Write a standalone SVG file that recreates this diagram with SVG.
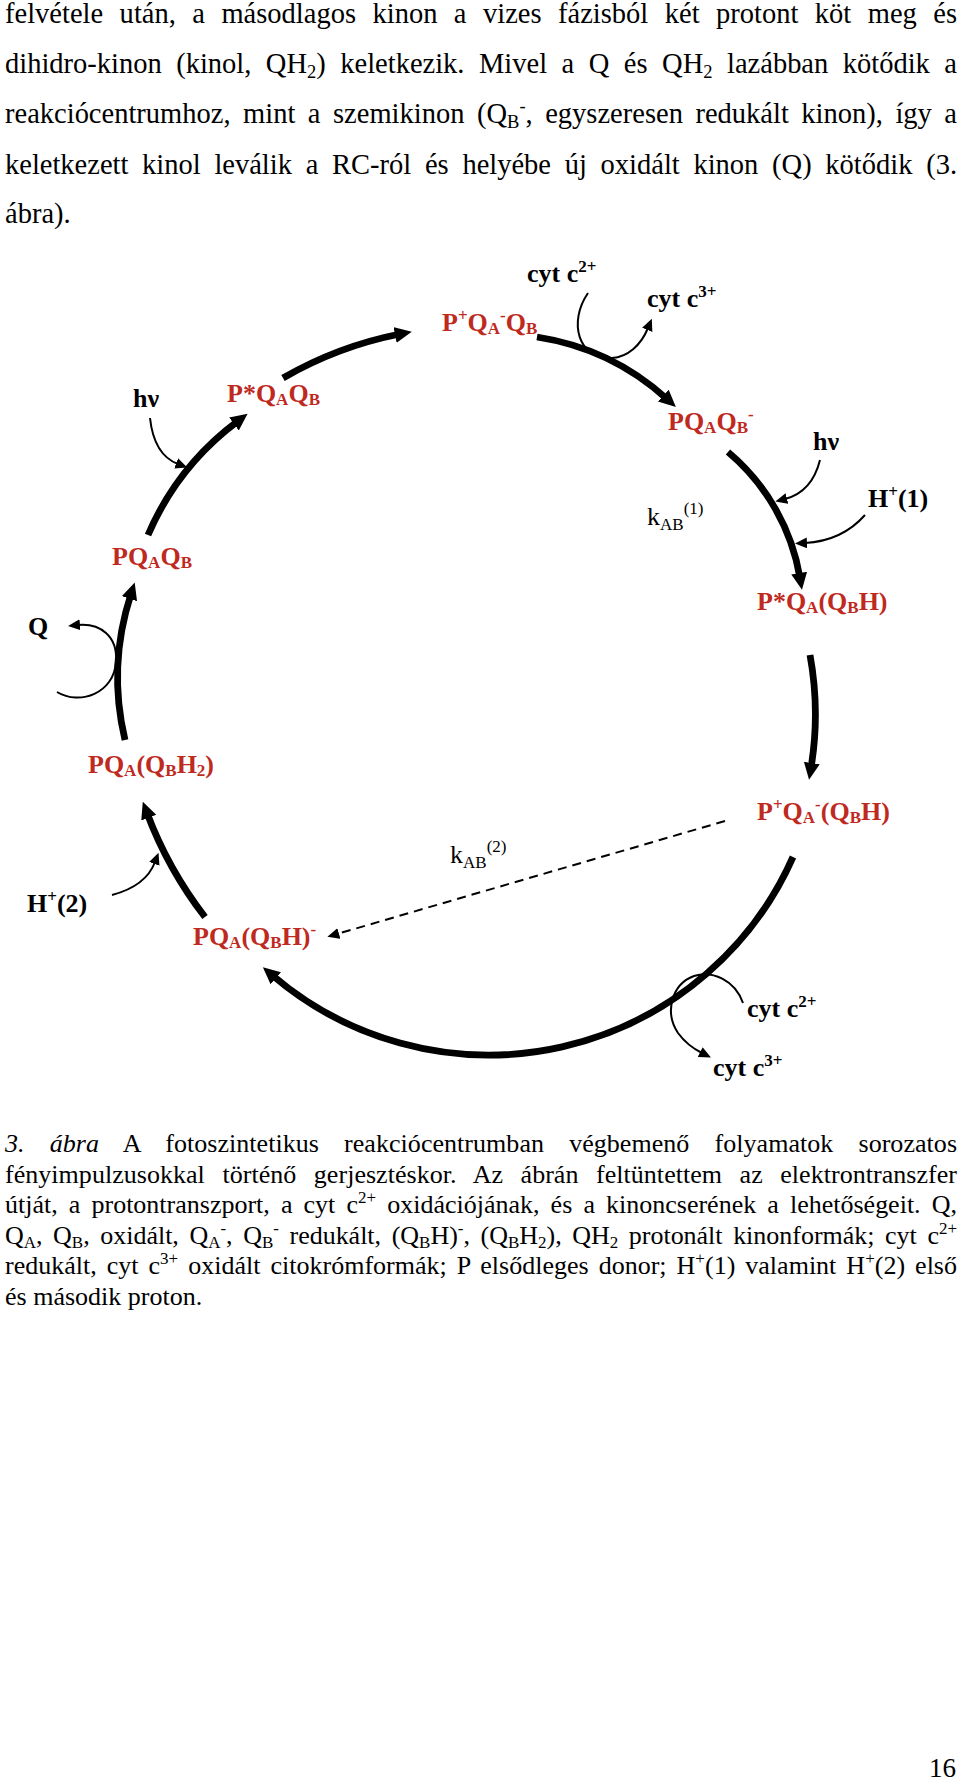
<svg xmlns="http://www.w3.org/2000/svg" width="960" height="1781" viewBox="0 0 960 1781">
<style>
text{font-family:"Liberation Serif","Times New Roman",serif;fill:#000}
.p{font-size:28.5px}
.c{font-size:26px}
.ps{font-size:18.5px;baseline-shift:-5px}
.pu{font-size:18.5px;baseline-shift:11px}
.cs{font-size:17px;baseline-shift:-4px}
.cu{font-size:17px;baseline-shift:10px}
.lb{font-size:26px;font-weight:bold;fill:#bf2a1f}
.bk{font-size:26px;font-weight:bold}
.k{font-size:26px}
.s{font-size:17px;baseline-shift:-3px}
.u{font-size:17px;baseline-shift:10px}
.thick{fill:none;stroke:#000;stroke-width:6.8;marker-end:url(#ah)}
.thin{fill:none;stroke:#000;stroke-width:2;marker-end:url(#at)}
.dash{fill:none;stroke:#000;stroke-width:2;stroke-dasharray:9 6;marker-end:url(#at)}
</style>
<defs>
<marker id="ah" markerUnits="userSpaceOnUse" markerWidth="20" markerHeight="18" refX="5" refY="8" orient="auto"><path d="M0,0 L17,8 L0,16 Z" fill="#000"/></marker>
<marker id="at" markerUnits="userSpaceOnUse" markerWidth="14" markerHeight="12" refX="2" refY="5.5" orient="auto"><path d="M0,0 L12,5.5 L0,11 Z" fill="#000"/></marker>
</defs>
<rect width="960" height="1781" fill="#fff"/>

<g id="paragraph">
<text class="p" x="5" y="23" word-spacing="9.3" textLength="952" lengthAdjust="spacing">felvétele után, a másodlagos kinon a vizes fázisból két protont köt meg és</text>
<text class="p" x="5" y="73" word-spacing="7.4" textLength="952" lengthAdjust="spacing">dihidro-kinon (kinol, QH<tspan class="ps">2</tspan>) keletkezik. Mivel a Q és QH<tspan class="ps">2</tspan> lazábban kötődik a</text>
<text class="p" x="5" y="123" word-spacing="5.4" textLength="952" lengthAdjust="spacing">reakciócentrumhoz, mint a szemikinon (Q<tspan class="ps">B</tspan><tspan class="pu">-</tspan>, egyszeresen redukált kinon), így a</text>
<text class="p" x="5" y="174" word-spacing="6.6" textLength="952" lengthAdjust="spacing">keletkezett kinol leválik a RC-ról és helyébe új oxidált kinon (Q) kötődik (3.</text>
<text class="p" x="5" y="223">ábra).</text>
</g>

<g id="connectors">
<path id="e1" class="thick" d="M148,535 A280,280 0 0 1 238,421"/>
<path id="e2" class="thick" d="M283,378 A380,380 0 0 1 400,334"/>
<path id="e3" class="thick" d="M537,337 A250,250 0 0 1 667,399"/>
<path id="e4" class="thick" d="M728,452 A210,210 0 0 1 800,578"/>
<path id="e5" class="thick" d="M810,655 A330,330 0 0 1 811,768"/>
<path id="e6" class="thick" d="M793,857 A333,333 0 0 1 272,975"/>
<path id="e7" class="thick" d="M205,917 A400,400 0 0 1 147,813"/>
<path id="e8" class="thick" d="M125,740 A270,270 0 0 1 131,594"/>
<path id="hv1-in" class="thin" d="M150,418 Q154,455 178,464"/>
<path id="cyt1" class="thin" d="M588,293 C568,322 578,360 612,358 C628,357 641,345 648,328"/>
<path id="hv2-in" class="thin" d="M820,460 Q812,492 785,499"/>
<path id="h1-in" class="thin" d="M865,515 Q842,541 805,543"/>
<path id="q-out" class="thin" d="M57,692 C80,706 114,693 116,662 C118,636 100,623 78,625"/>
<path id="h2-in" class="thin" d="M112,895 Q146,886 155,862"/>
<path id="cyt2" class="thin" d="M743,1003 C735,980 712,970 694,976 C672,984 664,1012 678,1033 C686,1044 694,1049 702,1053"/>
<path id="kab2" class="dash" d="M725,821 L337,934"/>
</g>

<g id="n-PpQAmQB"><text class="lb" x="442" y="331">P<tspan class="u">+</tspan>Q<tspan class="s">A</tspan><tspan class="u">-</tspan>Q<tspan class="s">B</tspan></text></g>
<g id="n-PsQAQB"><text class="lb" x="227" y="402">P*Q<tspan class="s">A</tspan>Q<tspan class="s">B</tspan></text></g>
<g id="n-PQAQB"><text class="lb" x="112" y="565">PQ<tspan class="s">A</tspan>Q<tspan class="s">B</tspan></text></g>
<g id="n-PQAQBm"><text class="lb" x="668" y="430">PQ<tspan class="s">A</tspan>Q<tspan class="s">B</tspan><tspan class="u">-</tspan></text></g>
<g id="n-PsQAQBH"><text class="lb" x="757" y="610">P*Q<tspan class="s">A</tspan>(Q<tspan class="s">B</tspan>H)</text></g>
<g id="n-PQAQBH2"><text class="lb" x="88" y="773">PQ<tspan class="s">A</tspan>(Q<tspan class="s">B</tspan>H<tspan class="s">2</tspan>)</text></g>
<g id="n-PpQAmQBH"><text class="lb" x="757" y="820">P<tspan class="u">+</tspan>Q<tspan class="s">A</tspan><tspan class="u">-</tspan>(Q<tspan class="s">B</tspan>H)</text></g>
<g id="n-PQAQBHm"><text class="lb" x="193" y="945">PQ<tspan class="s">A</tspan>(Q<tspan class="s">B</tspan>H)<tspan class="u">-</tspan></text></g>

<g id="labels">
<text class="bk" x="527" y="282">cyt c<tspan class="u">2+</tspan></text>
<text class="bk" x="647" y="307">cyt c<tspan class="u">3+</tspan></text>
<text class="bk" x="133" y="407">hν</text>
<text class="bk" x="813" y="450">hν</text>
<text class="bk" x="868" y="507">H<tspan class="u">+</tspan>(1)</text>
<text class="k" x="647" y="525">k<tspan class="s" style="baseline-shift:-5px">AB</tspan><tspan class="u" style="baseline-shift:11px">(1)</tspan></text>
<text class="bk" x="28" y="635">Q</text>
<text class="k" x="450" y="863">k<tspan class="s" style="baseline-shift:-5px">AB</tspan><tspan class="u" style="baseline-shift:11px">(2)</tspan></text>
<text class="bk" x="27" y="912">H<tspan class="u">+</tspan>(2)</text>
<text class="bk" x="747" y="1017">cyt c<tspan class="u">2+</tspan></text>
<text class="bk" x="713" y="1076">cyt c<tspan class="u">3+</tspan></text>
</g>

<g id="caption">
<text class="c" x="5" y="1152" word-spacing="18.6" textLength="952" lengthAdjust="spacing"><tspan font-style="italic">3. ábra</tspan> A fotoszintetikus reakciócentrumban végbemenő folyamatok sorozatos</text>
<text class="c" x="5" y="1182.5" word-spacing="11" textLength="952" lengthAdjust="spacing">fényimpulzusokkal történő gerjesztéskor. Az ábrán feltüntettem az elektrontranszfer</text>
<text class="c" x="5" y="1213" word-spacing="4.6" textLength="952" lengthAdjust="spacing">útját, a protontranszport, a cyt c<tspan class="cu">2+</tspan> oxidációjának, és a kinoncserének a lehetőségeit. Q,</text>
<text class="c" x="5" y="1243.5" word-spacing="4.1" textLength="952" lengthAdjust="spacing">Q<tspan class="cs">A</tspan>, Q<tspan class="cs">B</tspan>, oxidált, Q<tspan class="cs">A</tspan><tspan class="cu">-</tspan>, Q<tspan class="cs">B</tspan><tspan class="cu">-</tspan> redukált, (Q<tspan class="cs">B</tspan>H)<tspan class="cu">-</tspan>, (Q<tspan class="cs">B</tspan>H<tspan class="cs">2</tspan>), QH<tspan class="cs">2</tspan> protonált kinonformák; cyt c<tspan class="cu">2+</tspan></text>
<text class="c" x="5" y="1274" word-spacing="3.5" textLength="952" lengthAdjust="spacing">redukált, cyt c<tspan class="cu">3+</tspan> oxidált citokrómformák; P elsődleges donor; H<tspan class="cu">+</tspan>(1) valamint H<tspan class="cu">+</tspan>(2) első</text>
<text class="c" x="5" y="1304.5">és második proton.</text>
</g>

<g id="page-number"><text class="c" x="929" y="1777" style="font-size:27px">16</text></g>
</svg>
